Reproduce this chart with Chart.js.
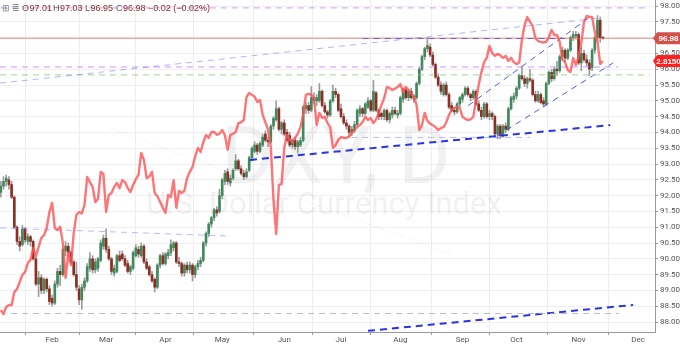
<!DOCTYPE html>
<html><head><meta charset="utf-8">
<script src="https://cdn.jsdelivr.net/npm/chart.js@4"></script>
<style>html,body{margin:0;padding:0;background:#fff;}#c{display:block;}</style>
</head><body>
<canvas id="c" width="680" height="344"></canvas>
<script>
// ---------- DATA ----------
const months = ['Feb','Mar','Apr','May','Jun','Jul','Aug','Sep','Oct','Nov','Dec'];
const monthBars = [19,39,61,82,105,126,148,171,191,214,236];

const opens = [92.10,92.30,92.45,92.50,92.35,91.95,91.00,90.55,90.45,90.95,90.55,90.70,90.55,90.00,89.20,89.40,89.00,89.35,89.05,88.75,
88.60,89.20,89.60,89.50,90.25,90.40,90.20,89.90,89.50,89.05,88.70,89.10,89.30,89.70,90.00,89.65,89.70,89.95,90.40,90.65,
90.30,90.00,89.55,89.60,90.10,90.15,90.00,89.85,89.60,89.70,90.10,90.30,90.10,90.40,89.90,89.75,89.50,89.35,89.10,89.80,
90.10,89.85,90.10,90.20,90.35,90.50,89.90,89.85,89.55,89.80,89.65,89.80,89.50,89.75,89.85,89.95,90.50,90.80,91.10,91.30,
91.55,91.50,92.00,92.45,92.75,92.40,92.55,92.85,93.10,92.85,92.70,92.60,92.80,93.20,93.40,93.60,93.40,93.60,93.95,93.75,
93.70,94.20,94.40,94.75,94.10,94.30,94.00,93.90,93.60,93.75,93.55,93.60,93.75,94.75,94.85,94.70,95.10,95.00,95.00,95.30,
94.85,94.65,94.55,95.00,95.30,95.20,94.75,94.50,94.30,94.20,94.00,94.05,94.25,94.60,94.75,94.60,94.80,95.00,94.70,95.25,
94.70,94.60,94.50,94.70,94.40,94.55,94.70,94.55,94.60,95.05,95.35,95.10,95.30,95.05,95.10,95.55,96.00,96.40,96.65,96.70,
96.45,96.15,95.75,95.50,95.20,95.50,95.20,94.85,94.70,94.65,94.90,95.05,95.20,95.40,95.20,95.10,95.30,94.90,94.70,94.50,
94.90,94.50,94.60,94.50,93.95,94.20,93.90,94.20,94.10,94.75,95.05,95.15,95.40,95.80,95.70,95.55,95.70,95.65,95.20,95.00,
95.20,95.00,94.90,95.55,95.90,95.70,96.00,95.95,96.40,96.60,96.35,96.60,97.00,97.05,97.10,96.20,96.50,96.30,96.20,96.05,
96.60,97.00,97.55,97.01];
const highs = [92.45,92.60,92.65,92.60,92.45,92.00,91.05,90.70,91.05,91.00,90.80,90.75,90.60,90.05,89.60,89.50,89.40,89.40,89.15,88.85,
89.30,89.70,89.80,90.35,90.55,90.50,90.25,89.95,89.90,89.15,89.20,89.40,89.85,90.20,90.10,90.00,90.05,90.60,90.75,90.95,
90.40,90.05,89.80,90.15,90.25,90.25,90.10,89.95,89.80,90.25,90.45,90.40,90.50,90.45,90.00,89.80,89.60,89.40,89.85,90.15,
90.20,90.20,90.30,90.60,90.55,90.55,90.05,89.90,89.85,89.90,89.90,89.85,89.80,89.95,90.05,90.55,90.85,91.15,91.35,91.60,
91.65,92.20,92.55,92.80,92.85,92.65,92.85,93.30,93.15,92.95,92.80,92.85,93.25,93.55,93.70,93.65,93.70,93.95,94.05,93.85,
94.25,94.50,95.00,94.80,94.35,94.40,94.10,94.00,93.80,93.85,93.75,93.85,94.85,94.95,94.95,95.45,95.25,95.20,95.55,95.35,
94.95,94.70,95.05,95.50,95.40,95.25,94.90,94.60,94.40,94.25,94.20,94.35,94.75,94.85,94.80,94.95,95.10,95.05,95.65,95.30,
94.75,94.65,94.75,94.75,94.65,94.80,94.80,94.70,95.15,95.40,95.40,95.35,95.40,95.20,95.60,96.05,96.45,96.70,97.00,96.80,
96.55,96.20,95.85,95.60,95.55,95.60,95.25,94.95,94.80,94.95,95.15,95.25,95.45,95.45,95.25,95.35,95.35,95.00,94.80,94.95,
94.95,94.70,94.65,94.55,94.25,94.25,94.25,94.30,94.80,95.15,95.25,95.45,95.85,96.10,95.80,95.75,96.00,95.70,95.30,95.30,
95.25,95.10,95.60,95.95,96.00,96.05,96.25,96.45,96.70,96.65,96.65,97.05,97.20,97.20,97.15,96.70,96.60,96.45,96.30,96.65,
97.05,97.70,97.65,97.03];
const lows = [91.95,92.20,92.30,92.20,91.90,90.95,90.45,90.25,90.40,90.50,90.45,90.40,89.95,89.15,88.80,88.90,88.90,88.95,88.55,88.50,
88.55,89.10,89.15,89.45,90.10,90.05,89.85,89.45,89.00,88.55,88.40,89.00,89.25,89.60,89.55,89.55,89.60,89.90,90.30,90.20,
89.95,89.50,89.45,89.55,89.90,89.95,89.75,89.55,89.50,89.65,90.05,90.05,90.05,89.85,89.65,89.45,89.25,88.95,89.05,89.70,
89.80,89.80,90.00,90.10,90.25,89.85,89.75,89.45,89.45,89.55,89.55,89.30,89.40,89.65,89.75,89.90,90.40,90.70,91.00,91.20,
91.35,91.45,91.90,92.35,92.35,92.30,92.50,92.80,92.80,92.65,92.50,92.55,92.75,93.10,93.35,93.30,93.35,93.55,93.70,93.55,
93.65,94.10,94.35,94.05,93.95,93.90,93.70,93.55,93.50,93.45,93.35,93.55,93.70,94.60,94.60,94.65,94.90,94.85,94.95,94.80,
94.60,94.45,94.50,94.95,95.10,94.65,94.45,94.25,94.10,93.85,93.90,94.00,94.20,94.50,94.50,94.55,94.75,94.65,94.65,94.65,
94.40,94.40,94.40,94.35,94.30,94.45,94.55,94.45,94.55,94.95,95.05,95.00,95.05,94.95,95.05,95.50,95.95,96.30,96.55,96.40,
96.10,95.70,95.45,95.20,95.15,95.15,94.75,94.65,94.55,94.60,94.80,94.95,95.15,95.15,95.00,95.05,94.85,94.65,94.40,94.45,
94.45,94.40,94.40,93.90,93.80,93.80,93.85,94.00,94.05,94.70,94.95,95.05,95.35,95.65,95.45,95.40,95.60,95.15,94.95,94.95,
94.90,94.80,94.85,95.50,95.60,95.65,95.80,95.90,96.30,96.25,96.30,96.55,96.90,96.95,96.15,95.95,96.25,96.10,95.80,95.95,
96.50,96.90,96.85,96.95];
const closes = [92.30,92.45,92.55,92.35,91.95,91.00,90.55,90.40,90.95,90.60,90.70,90.55,90.00,89.20,89.40,89.00,89.35,89.05,88.65,88.60,
89.20,89.60,89.50,90.30,90.40,90.20,89.90,89.50,89.10,88.70,89.10,89.30,89.75,90.00,89.65,89.90,90.00,90.50,90.65,90.30,
90.00,89.60,89.70,90.10,89.95,90.00,89.80,89.60,89.75,90.20,90.35,90.15,90.40,89.90,89.70,89.50,89.30,89.10,89.80,90.10,
89.85,90.15,90.20,90.45,90.50,89.90,89.85,89.55,89.80,89.65,89.80,89.50,89.75,89.85,89.95,90.50,90.80,91.10,91.30,91.55,
91.45,92.00,92.50,92.70,92.45,92.55,92.80,93.10,92.85,92.70,92.60,92.75,93.20,93.50,93.60,93.40,93.65,93.85,93.75,93.70,
94.20,94.45,94.75,94.10,94.30,93.95,93.75,93.60,93.75,93.55,93.70,93.75,94.80,94.85,94.70,95.10,95.00,95.10,95.30,94.85,
94.65,94.55,95.00,95.30,95.20,94.70,94.50,94.30,94.20,94.00,94.10,94.25,94.70,94.75,94.60,94.90,95.00,94.70,95.30,94.70,
94.50,94.50,94.70,94.40,94.60,94.70,94.60,94.60,95.10,95.35,95.10,95.30,95.10,95.15,95.55,96.00,96.40,96.65,96.75,96.45,
96.15,95.75,95.50,95.30,95.50,95.20,94.80,94.70,94.65,94.90,95.10,95.20,95.40,95.20,95.10,95.30,94.90,94.70,94.50,94.90,
94.50,94.60,94.50,93.95,94.20,93.90,94.20,94.10,94.75,95.10,95.15,95.40,95.80,95.70,95.55,95.70,95.65,95.20,95.00,95.20,
94.95,94.90,95.55,95.90,95.70,96.00,95.95,96.40,96.60,96.35,96.60,97.00,97.10,97.10,96.20,96.50,96.30,96.20,96.00,96.60,
97.00,97.55,97.00,96.98];

// second series (yield), one value per bar
const yields = [1.941,1.927,1.952,1.959,1.958,2.004,2.015,2.040,2.064,2.075,2.106,2.117,2.159,2.130,2.162,2.194,2.204,2.229,2.285,2.317,
2.229,2.222,2.233,2.176,2.054,2.141,2.099,2.211,2.275,2.285,2.280,2.310,2.408,2.390,2.373,2.320,2.330,2.426,2.419,2.285,
2.345,2.352,2.373,2.387,2.369,2.397,2.390,2.370,2.355,2.380,2.400,2.415,2.492,2.468,2.404,2.410,2.426,2.352,2.340,2.320,
2.300,2.282,2.345,2.338,2.397,2.300,2.359,2.352,2.360,2.404,2.426,2.443,2.480,2.510,2.496,2.530,2.555,2.545,2.566,2.566,
2.556,2.560,2.573,2.555,2.503,2.555,2.560,2.566,2.597,2.600,2.608,2.689,2.703,2.696,2.690,2.671,2.678,2.626,2.600,2.573,
2.513,2.327,2.208,2.380,2.383,2.513,2.555,2.540,2.531,2.545,2.560,2.583,2.626,2.696,2.700,2.696,2.685,2.590,2.633,2.615,
2.619,2.597,2.583,2.510,2.520,2.538,2.548,2.545,2.545,2.550,2.562,2.573,2.583,2.590,2.601,2.619,2.608,2.615,2.597,2.610,
2.633,2.661,2.685,2.724,2.720,2.713,2.718,2.724,2.734,2.706,2.724,2.713,2.700,2.689,2.661,2.573,2.590,2.633,2.605,2.595,
2.590,2.583,2.573,2.580,2.583,2.600,2.626,2.643,2.650,2.654,2.650,2.619,2.612,2.608,2.610,2.619,2.678,2.731,2.776,2.811,
2.826,2.868,2.843,2.833,2.840,2.835,2.826,2.833,2.815,2.826,2.811,2.804,2.810,2.889,2.941,2.969,2.952,2.938,2.896,2.885,
2.882,2.880,2.882,2.899,2.924,2.906,2.906,2.882,2.819,2.811,2.783,2.776,2.826,2.801,2.830,2.878,2.952,2.973,2.970,2.969,
2.917,2.882,2.805,2.815];

// drawn trend lines: [startBar, startPrice, endBar, endPrice]
const trendLines = [
  [0, 97.94, 238.6, 97.94],      // top violet level
  [-0.3, 95.56, 222, 97.62],     // long rising light-blue line
  [134, 96.97, 209, 96.97],      // blue level at 96.97
  [-0.3, 96.07, 228.6, 96.07],   // violet level
  [-0.3, 95.82, 240.5, 95.82],   // green level
  [173.1, 94.85, 219, 97.70],    // upper channel
  [183.8, 93.89, 226.8, 96.20],  // lower channel
  [92.3, 93.13, 225.7, 94.23],   // support line
  [125.7, 93.84, 196, 93.84],    // light-blue level (Sep low)
  [-0.3, 90.98, 84.9, 90.72],    // left light-blue line
  [3.8, 88.27, 229, 88.27],      // grey level (Feb low)
  [136, 87.72, 234.2, 88.54],    // bottom rising blue line
  [40.5, 94.13, 166.4, 90.15]    // faint dotted line
];
const trendStyles = [
  {c:'rgba(200,120,250,0.75)', w:1, d:[6,5]},
  {c:'rgba(120,130,255,0.6)', w:1, d:[6,5]},
  {c:'rgba(70,70,230,0.75)', w:1, d:[6,5]},
  {c:'rgba(200,120,250,0.8)', w:1, d:[6,5]},
  {c:'rgba(140,200,120,0.8)', w:1, d:[6,5]},
  {c:'rgba(50,60,240,0.85)', w:1, d:[6,5]},
  {c:'rgba(50,60,240,0.85)', w:1, d:[6,5]},
  {c:'rgba(30,40,235,0.95)', w:2, d:[7,5]},
  {c:'rgba(130,140,255,0.6)', w:1, d:[6,5]},
  {c:'rgba(130,140,255,0.6)', w:1, d:[6,5]},
  {c:'rgba(170,170,170,0.8)', w:1, d:[6,5]},
  {c:'rgba(30,40,235,0.95)', w:2, d:[7,5]},
  {c:'rgba(190,190,190,0.35)', w:1, d:[1,2]}
];

// ---------- BUILD ----------
const n = closes.length;
const lastClose = closes[n-1];
const lastYield = yields[yields.length-1];
const UP = '#3e8a5c', DOWN = '#8f2d22';
const wickData = [], bodyData = [], bodyCol = [], yieldData = [];
for (let i = 0; i < n; i++) {
  wickData.push({x: i, y: [lows[i], highs[i]]});
  bodyData.push({x: i, y: [opens[i], closes[i]]});
  bodyCol.push(closes[i] >= opens[i] ? UP : DOWN);
}
for (let i = 0; i < yields.length; i++) yieldData.push({x: i, y: yields[i]});

const X_MIN = -0.3, X_MAX = 242.3;
const datasets = [];
datasets.push({type:'line', data: yieldData, yAxisID:'y2', borderColor:'rgba(255,85,85,0.82)', borderWidth:2.4,
  pointRadius:0, tension:0, order:0, borderJoinStyle:'round'});
trendLines.forEach((t, k) => {
  const s = trendStyles[k];
  datasets.push({type:'line', data:[{x:t[0], y:t[1]},{x:t[2], y:t[3]}], yAxisID:'y', borderColor:s.c,
    borderWidth:s.w, borderDash:s.d, pointRadius:0, order:1});
});
datasets.push({type:'line', data:[{x:X_MIN, y:lastClose},{x:X_MAX, y:lastClose}], yAxisID:'y',
  borderColor:'rgba(235,110,100,0.8)', borderWidth:1, pointRadius:0, order:1});
datasets.push({type:'bar', data: bodyData, yAxisID:'y', backgroundColor: bodyCol, barThickness:2,
  grouped:false, minBarLength:1, order:2});
datasets.push({type:'bar', data: wickData, yAxisID:'y', backgroundColor:'#9c9c9c', barThickness:1,
  grouped:false, order:3});

const watermark = {
  id:'watermark',
  beforeDatasetsDraw(chart){
    const c = chart.ctx; c.save();
    c.fillStyle = 'rgba(150,150,160,0.13)';
    c.textAlign = 'center'; c.textBaseline = 'alphabetic';
    c.font = '80px Roboto'; c.fillText('DXY, D', 336, 183);
    c.font = '31px Roboto'; c.fillText('U.S. Dollar Currency Index', 324, 214);
    c.restore();
  }
};
const overlay = {
  id:'overlay',
  afterDraw(chart){
    const c = chart.ctx; c.save();
    // header
    c.textBaseline = 'middle'; c.textAlign = 'left';
    c.font = '9px "Liberation Sans"';
    c.fillStyle = '#888'; c.fillText('\u229E', 2, 9);
    c.fillText('\u2263', 12, 9);
    const prev = closes[n-2];
    const ch = lastClose - prev;
    const parts = [['O', opens[n-1].toFixed(2), 22], ['H', highs[n-1].toFixed(2), 53],
                   ['L', lows[n-1].toFixed(2), 85], ['C', lastClose.toFixed(2), 116]];
    parts.forEach(p => {
      c.fillStyle = '#6b4b4b'; c.fillText(p[0], p[2], 9);
      const w = c.measureText(p[0]).width;
      c.fillStyle = '#8a2e2a'; c.fillText(p[1], p[2] + w + 0.5, 9);
    });
    c.fillStyle = '#8a2e2a';
    c.fillText('\u2212' + Math.abs(ch).toFixed(2) + ' (\u2212' + Math.abs(ch / prev * 100).toFixed(2) + '%)', 148, 9);
    // price tags
    const ys = chart.scales.y, y2 = chart.scales.y2;
    const tag = (yy, txt, col) => {
      c.fillStyle = col;
      c.beginPath(); c.moveTo(653, yy); c.lineTo(657, yy - 6); c.lineTo(680, yy - 6);
      c.lineTo(680, yy + 6); c.lineTo(657, yy + 6); c.closePath(); c.fill();
      c.fillStyle = '#fff'; c.font = 'bold 8px "Liberation Sans"'; c.textAlign = 'center';
      c.fillText(txt, 668.5, yy + 0.5);
    };
    tag(ys.getPixelForValue(lastClose), lastClose.toFixed(2), '#d2524a');
    tag(y2.getPixelForValue(lastYield), lastYield.toFixed(4), '#ff2020');
    c.restore();
  }
};

new Chart(document.getElementById('c'), {
  type:'bar',
  data:{datasets},
  options:{
    responsive:false, animation:false,
    layout:{padding:0},
    plugins:{legend:{display:false}, tooltip:{enabled:false}},
    scales:{
      x:{type:'linear', min:X_MIN, max:X_MAX, offset:false,
        grid:{color:'#ededed', tickLength:3, tickColor:'#999'},
        border:{color:'#999'},
        ticks:{autoSkip:false, maxRotation:0, padding:0, color:'#555', font:{size:8, family:'Roboto'},
          callback:(v, i) => months[i]},
        afterBuildTicks:(s) => { s.ticks = monthBars.map(v => ({value:v})); },
        afterFit:(s) => { s.height = 12; s.paddingLeft = 0; s.paddingRight = 0; }
      },
      y:{position:'right', min:87.684, max:98.19,
        grid:{color:'#efefef', tickLength:3, tickColor:'#999'},
        border:{color:'#999'},
        ticks:{stepSize:0.5, includeBounds:false, autoSkip:false, padding:2, color:'#555',
          font:{size:8, family:'Roboto'}, callback:(v) => Number(v).toFixed(2)},
        afterFit:(s) => { s.width = 25; s.paddingTop = 0; s.paddingBottom = 0; }
      },
      y2:{display:false, min:1.864, max:3.029}
    }
  },
  plugins:[watermark, overlay]
});
</script>
</body></html>
